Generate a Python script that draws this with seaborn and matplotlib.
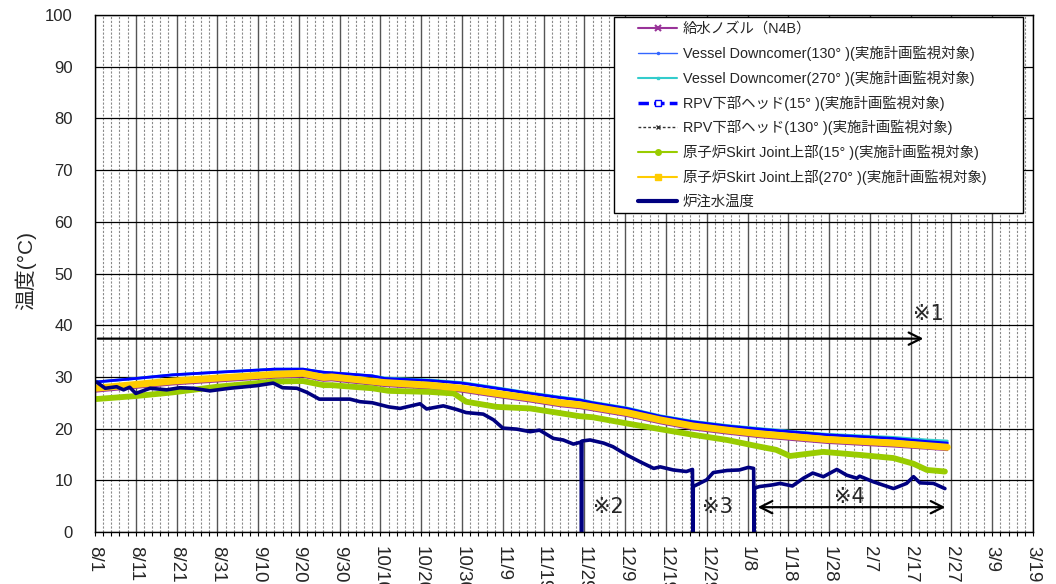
import pandas as pd
import matplotlib
matplotlib.use('Agg')
import matplotlib.pyplot as plt
import matplotlib.dates as mdates
from matplotlib.lines import Line2D
from matplotlib.patches import Rectangle
import seaborn as sns

START = pd.Timestamp('2012-08-01')
END = pd.Timestamp('2013-03-19')

# days since 8/1 and temperatures (deg C)
top_days = [0, 10, 19, 30, 44, 51, 56, 58, 68, 71, 82, 90, 98.5, 106.7, 114, 119,
            122, 130.4, 138.5, 146.7, 155, 163, 179.4, 195.8, 204, 209]
vessel130_vals = [29.0, 29.7, 30.4, 30.9, 31.5, 31.5, 30.9, 30.8, 30.2, 29.7, 29.3, 28.8, 27.8,
                  26.8, 26.0, 25.5, 25.0, 23.9, 22.4, 21.3, 20.5, 19.9, 18.8, 18.1, 17.5, 17.3]
vessel270_vals = [29.0, 29.7, 30.4, 30.9, 31.5, 31.5, 30.9, 30.8, 30.2, 29.8, 29.4, 28.9, 27.9,
                  26.9, 26.1, 25.6, 25.1, 24.0, 22.5, 21.4, 20.6, 20.0, 18.9, 18.3, 17.8, 17.6]
rpv15_vals = [29.0, 29.7, 30.4, 30.9, 31.5, 31.5, 30.9, 30.8, 30.2, 29.7, 29.3, 28.8, 27.8,
              26.8, 26.0, 25.5, 25.0, 23.9, 22.4, 21.3, 20.5, 19.9, 18.8, 18.1, 17.5, 17.2]

mid_days = [0, 19, 44, 51, 56, 58, 71, 82, 90, 98.5, 106.7, 114, 119, 122, 130.4,
            138.5, 146.7, 155, 163, 179.4, 195.8, 209]
skirt270_vals = [27.8, 29.2, 30.5, 30.7, 29.9, 30.0, 28.9, 28.4, 27.8, 26.8, 25.9, 25.0, 24.6,
                 24.2, 23.1, 21.7, 20.5, 19.7, 19.0, 17.9, 17.2, 16.4]
feed_vals = [27.1, 28.5, 29.8, 30.0, 29.2, 29.3, 28.2, 27.7, 27.1, 26.1, 25.2, 24.3, 23.9,
             23.5, 22.4, 21.0, 19.8, 19.0, 18.3, 17.2, 16.5, 15.8]
rpv130_vals = [27.6, 29.0, 30.3, 30.5, 29.7, 29.8, 28.7, 28.2, 27.6, 26.6, 25.7, 24.8, 24.4,
               24.0, 22.9, 21.5, 20.3, 19.5, 18.8, 17.7, 17.0, 16.2]

skirt15_days = [0, 10, 19, 30, 44, 51, 56, 58, 68, 72, 82, 88, 91, 98.5, 106.7, 114, 118.8,
                122, 130.4, 138.5, 146.7, 155, 163, 167, 170.4, 178.6, 187.6, 195.8, 200.7,
                204, 208.4]
skirt15_vals = [25.7, 26.3, 27.0, 28.1, 29.1, 29.2, 28.4, 28.4, 27.8, 27.3, 27.1, 26.8, 25.2,
                24.2, 23.9, 23.0, 22.4, 22.2, 21.0, 19.9, 18.8, 17.8, 16.5, 15.9, 14.7, 15.5,
                14.9, 14.3, 13.2, 12.0, 11.7]

inj_days = [0.4, 2.5, 5.3, 7.0, 8.5, 10, 13.5, 17.6, 20.8, 24, 28.2, 33, 39.6, 43.7, 46,
            49.5, 52, 55, 59, 62.5, 65, 68, 72, 74.8, 79.7, 81.3, 85.4, 88.7, 91, 95.2,
            97.7, 100, 103.4, 106.7, 109, 112.4, 114.8, 117.3, 119.2, 119.3, 119.4, 121.4,
            124.7, 127, 130.4, 133.6, 137, 138.6, 141.8, 145, 146.5, 146.6, 146.7, 150,
            151.6, 155, 158, 160.2, 161.5, 161.6, 161.7, 163, 166, 168, 171, 173.7, 176,
            178.6, 181.9, 184.3, 186.8, 187.5, 190.9, 195.8, 199, 200.7, 202.3, 205.6, 208.4]
inj_vals = [29.0, 27.8, 28.1, 27.5, 28.0, 26.8, 27.8, 27.5, 27.9, 27.8, 27.3, 27.8, 28.3, 28.8,
            27.9, 27.8, 27.0, 25.7, 25.7, 25.7, 25.2, 25.0, 24.2, 23.9, 24.8, 23.8, 24.4, 23.7,
            23.1, 22.8, 21.7, 20.1, 19.9, 19.4, 19.7, 18.1, 17.8, 17.0, 17.4, 0.0, 17.6, 17.8,
            17.2, 16.5, 14.9, 13.6, 12.3, 12.6, 12.0, 11.7, 12.1, 0.0, 8.8, 10.1, 11.5, 11.9,
            12.0, 12.5, 12.3, 0.0, 8.5, 8.8, 9.1, 9.4, 8.9, 10.4, 11.4, 10.7, 12.1, 11.0, 10.4,
            10.8, 9.7, 8.4, 9.4, 10.7, 9.5, 9.4, 8.4]

XTICK_LABELS = ['8/1', '8/11', '8/21', '8/31', '9/10', '9/20', '9/30', '10/10', '10/20',
                '10/30', '11/9', '11/19', '11/29', '12/9', '12/19', '12/29', '1/8', '1/18',
                '1/28', '2/7', '2/17', '2/27', '3/9', '3/19']
YTICKS = list(range(0, 101, 10))

LABELS = ['給水ノズル（N4B）',
          'Vessel Downcomer(130° )(実施計画監視対象)',
          'Vessel Downcomer(270° )(実施計画監視対象)',
          'RPV下部ヘッド(15° )(実施計画監視対象)',
          'RPV下部ヘッド(130° )(実施計画監視対象)',
          '原子炉Skirt Joint上部(15° )(実施計画監視対象)',
          '原子炉Skirt Joint上部(270° )(実施計画監視対象)',
          '炉注水温度']


def to_dates(days):
    return START + pd.to_timedelta(days, unit='D')


sns.set_theme(style='white')
plt.rcParams['font.family'] = ['Liberation Sans', 'Noto Sans CJK JP', 'DejaVu Sans']

W, H = 1056, 584
fig = plt.figure(figsize=(W / 100, H / 100), dpi=100)
ax = fig.add_axes([95 / W, 1 - 532 / H, 938 / W, 517 / H])

# series in drawing order: (days, values, colour, width)
series = [
    (mid_days, feed_vals, '#993399', 1.2),
    (top_days, vessel130_vals, '#3366FF', 1.5),
    (top_days, vessel270_vals, '#33CCCC', 2.0),
    (top_days, rpv15_vals, '#0000FF', 2.0),
    (mid_days, rpv130_vals, '#333333', 1.0),
    (skirt15_days, skirt15_vals, '#99CC00', 4.2),
    (mid_days, skirt270_vals, '#FFCC00', 5.0),
    (inj_days, inj_vals, '#000080', 2.6),
]
for days, vals, col, lw in series:
    sns.lineplot(x=to_dates(days), y=vals, ax=ax, color=col, linewidth=lw,
                 estimator=None, sort=False, legend=False)

ax.set_xlim(START, END)
ax.set_ylim(0, 100)
ax.set_yticks(YTICKS)
ax.set_xticks(pd.date_range(START, END, freq='10D'))
ax.set_xticklabels(XTICK_LABELS, rotation=-90, ha='center', va='top', fontsize=13.5)
ax.set_xticks(pd.date_range(START, END, freq='2D'), minor=True)
ax.tick_params(axis='y', which='both', length=0, labelsize=12, pad=16)
ax.tick_params(axis='x', which='both', direction='out', length=3, width=0.8,
               color='black', bottom=True, pad=7)
ax.set_xlabel('')
ax.set_ylabel('')

ax.grid(axis='y', which='major', color='black', linewidth=0.9)
ax.grid(axis='x', which='major', color='#555555', linewidth=1.0)
ax.grid(axis='x', which='minor', color='#8a8a8a', linewidth=0.8, linestyle=(0, (2, 1.5)))
ax.set_axisbelow(True)
for sp in ax.spines.values():
    sp.set_color('black')
    sp.set_linewidth(1.0)

fig.text(25 / W, 1 - 271 / H, '温度(°C)', rotation=90, ha='center', va='center',
         fontsize=15)

# annotations
note_font = ['DejaVu Sans', 'Noto Sans CJK JP']
d = lambda x: mdates.date2num(to_dates(x))
ax.annotate('', xy=(d(203.8), 37.4), xytext=(d(0), 37.4),
            arrowprops=dict(arrowstyle='->', color='black', lw=1.6, mutation_scale=22))
ax.annotate('', xy=(d(161.8), 4.8), xytext=(d(209.2), 4.8),
            arrowprops=dict(arrowstyle='<->', color='black', lw=1.6, mutation_scale=22))
ax.text(d(204.3), 42.2, '※1', ha='center', va='center', fontsize=15, family=note_font)
ax.text(d(126), 4.8, '※2', ha='center', va='center', fontsize=15, family=note_font)
ax.text(d(152.5), 4.8, '※3', ha='center', va='center', fontsize=15, family=note_font)
ax.text(d(185), 6.8, '※4', ha='center', va='center', fontsize=15, family=note_font)

# legend box drawn separately so its padding can match the original
ax.add_patch(Rectangle((614 / W, 1 - 213 / H), 409 / W, 196 / H, transform=fig.transFigure,
                       facecolor='white', edgecolor='black', linewidth=1.0, zorder=4,
                       clip_on=False))
handles = [
    Line2D([], [], color='#993399', lw=1.5, marker='x', ms=4, mew=1.5),
    Line2D([], [], color='#3366FF', lw=1.0, marker='.', ms=3),
    Line2D([], [], color='#33CCCC', lw=1.5, marker='s', ms=2),
    Line2D([], [], color='#0000FF', lw=2.5, ls=(0, (3, 1.5)), marker='s', ms=5,
           mfc='white', mec='#0000FF'),
    Line2D([], [], color='#333333', lw=1.0, ls=(0, (2, 1.5)), marker='x', ms=3),
    Line2D([], [], color='#99CC00', lw=1.5, marker='o', ms=4),
    Line2D([], [], color='#FFCC00', lw=1.5, marker='s', ms=5),
    Line2D([], [], color='#000080', lw=3.0),
]
leg = ax.legend(handles, LABELS, loc='upper left', bbox_to_anchor=(638 / W, 1 - 22 / H),
                bbox_transform=fig.transFigure, borderaxespad=0, borderpad=0,
                fontsize=10.4, frameon=False, handlelength=2.7, handletextpad=0.4,
                labelspacing=0.65)
leg.set_zorder(5)

fig.savefig('out.png', dpi=100)
